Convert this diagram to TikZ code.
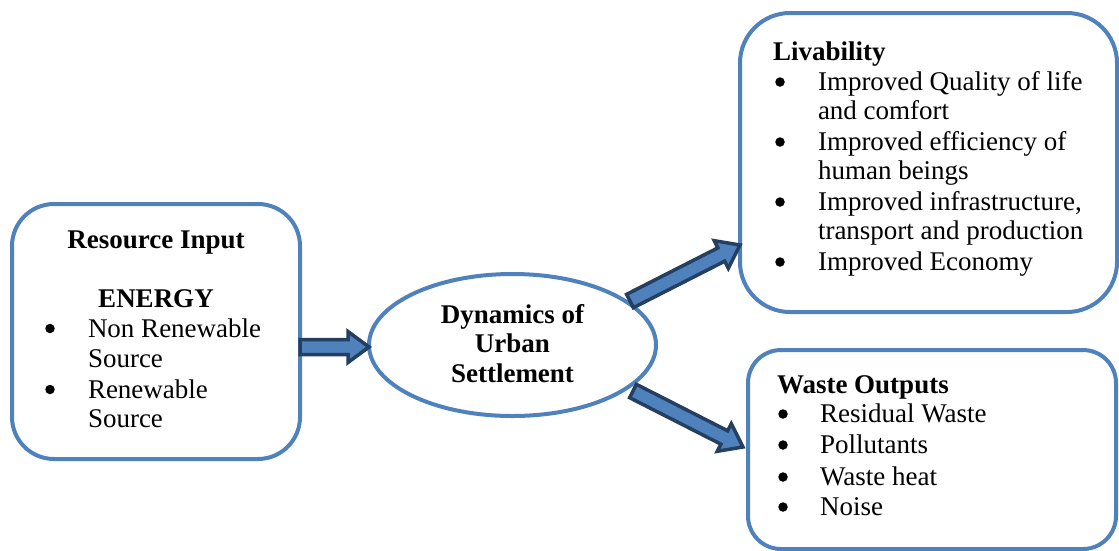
\documentclass[tikz,border=0pt]{standalone}
\usepackage{fontspec}
\setmainfont{Liberation Serif}
\usetikzlibrary{shapes.geometric,calc}

\definecolor{boxblue}{RGB}{79,129,189}
\definecolor{arrowfill}{RGB}{79,129,189}
\definecolor{arrowline}{RGB}{36,63,96}

\tikzset{
  panel/.style={draw=boxblue, line width=4pt, fill=white, inner sep=0pt, outer sep=0pt},
  hub/.style={draw=boxblue, line width=4pt, fill=white, ellipse, inner sep=0pt, outer sep=0pt,
              minimum width=287pt, minimum height=142pt},
  txt/.style={inner sep=0pt, outer sep=0pt, font=\fontsize{27}{31}\selectfont},
  head/.style={txt, font=\fontsize{27}{31}\selectfont\bfseries},
  lbl/.style={txt, anchor=base west},
  hlbl/.style={head, anchor=base west},
  dot/.style={circle, fill=black, inner sep=0pt, minimum size=9.5pt},
  blockarrow/.style={fill=arrowfill, draw=arrowline, line width=3.5pt, line join=miter}
}

% block arrow from #1 (tail centre) to #2 (tip)
\newcommand\blockarrow[2]{%
  \coordinate (hb) at ($(#2)!21pt!(#1)$);
  \draw[blockarrow]
    ($(#1)!7.5pt!90:(#2)$) -- ($(hb)!7.5pt!-90:(#1)$) -- ($(hb)!15.5pt!-90:(#1)$) -- (#2)
    -- ($(hb)!15.5pt!90:(#1)$) -- ($(hb)!7.5pt!90:(#1)$) -- ($(#1)!7.5pt!-90:(#2)$) -- cycle;
}

\begin{document}
\begin{tikzpicture}[x=1pt, y=-1pt]
\useasboundingbox (0,0) rectangle (1119,550);

% containers
\node[panel, rounded corners=42pt, minimum width=288pt, minimum height=255pt] (inp) at (156,331.5) {};
\node[hub] (ell) at (512.5,345) {};
\node[panel, rounded corners=50pt, minimum width=377pt, minimum height=299pt] (liv) at (928.5,162.5) {};
\node[panel, rounded corners=33pt, minimum width=368pt, minimum height=199pt] (wst) at (932,449.5) {};

% resource input
\node[head, anchor=base] (inpT) at (156,248) {Resource Input};
\node[head, anchor=base] (inpE) at (156,307) {ENERGY};
\node[dot] (b1) at (50,328.5) {};
\node[lbl] (i1) at (88,337) {Non Renewable};
\node[lbl] (i2) at (88,367) {Source};
\node[dot] (b2) at (50,389.5) {};
\node[lbl] (i3) at (88,398) {Renewable};
\node[lbl] (i4) at (88,427) {Source};

% settlement
\node[head, anchor=base] (d1) at (512.5,323) {Dynamics of};
\node[head, anchor=base] (d2) at (512.5,352.5) {Urban};
\node[head, anchor=base] (d3) at (512.5,382) {Settlement};

% livability
\node[hlbl] (livT) at (773,60) {Livability};
\node[dot] (lb1) at (780,82) {};
\node[lbl] (l1) at (818,90) {Improved Quality of life};
\node[lbl] (l2) at (818,119) {and comfort};
\node[dot] (lb2) at (780,142) {};
\node[lbl] (l3) at (818,150) {Improved efficiency of};
\node[lbl] (l4) at (818,179) {human beings};
\node[dot] (lb3) at (780,202) {};
\node[lbl] (l5) at (818,210) {Improved infrastructure,};
\node[lbl] (l6) at (818,239) {transport and production};
\node[dot] (lb4) at (780,262) {};
\node[lbl] (l7) at (818,270) {Improved Economy};

% waste outputs
\node[hlbl] (wstT) at (777,393) {Waste Outputs};
\node[dot] (wb1) at (783,414) {};
\node[lbl] (w1) at (820,422) {Residual Waste};
\node[dot] (wb2) at (783,445) {};
\node[lbl] (w2) at (820,453) {Pollutants};
\node[dot] (wb3) at (783,477) {};
\node[lbl] (w3) at (820,485) {Waste heat};
\node[dot] (wb4) at (783,507) {};
\node[lbl] (w4) at (820,515) {Noise};

% arrow ends
\coordinate (a1s) at ($(inp.east)+(0,15.5)$);
\coordinate (a1e) at ($(ell.west)+(0,2)$);
\coordinate (a2s) at (630,301);
\coordinate (a2e) at ($(liv.west)+(0,82.5)$);
\coordinate (a3s) at (633,391);
\coordinate (a3e) at (743,447);

\blockarrow{a1s}{a1e}
\blockarrow{a2s}{a2e}
\blockarrow{a3s}{a3e}
\end{tikzpicture}
\end{document}
